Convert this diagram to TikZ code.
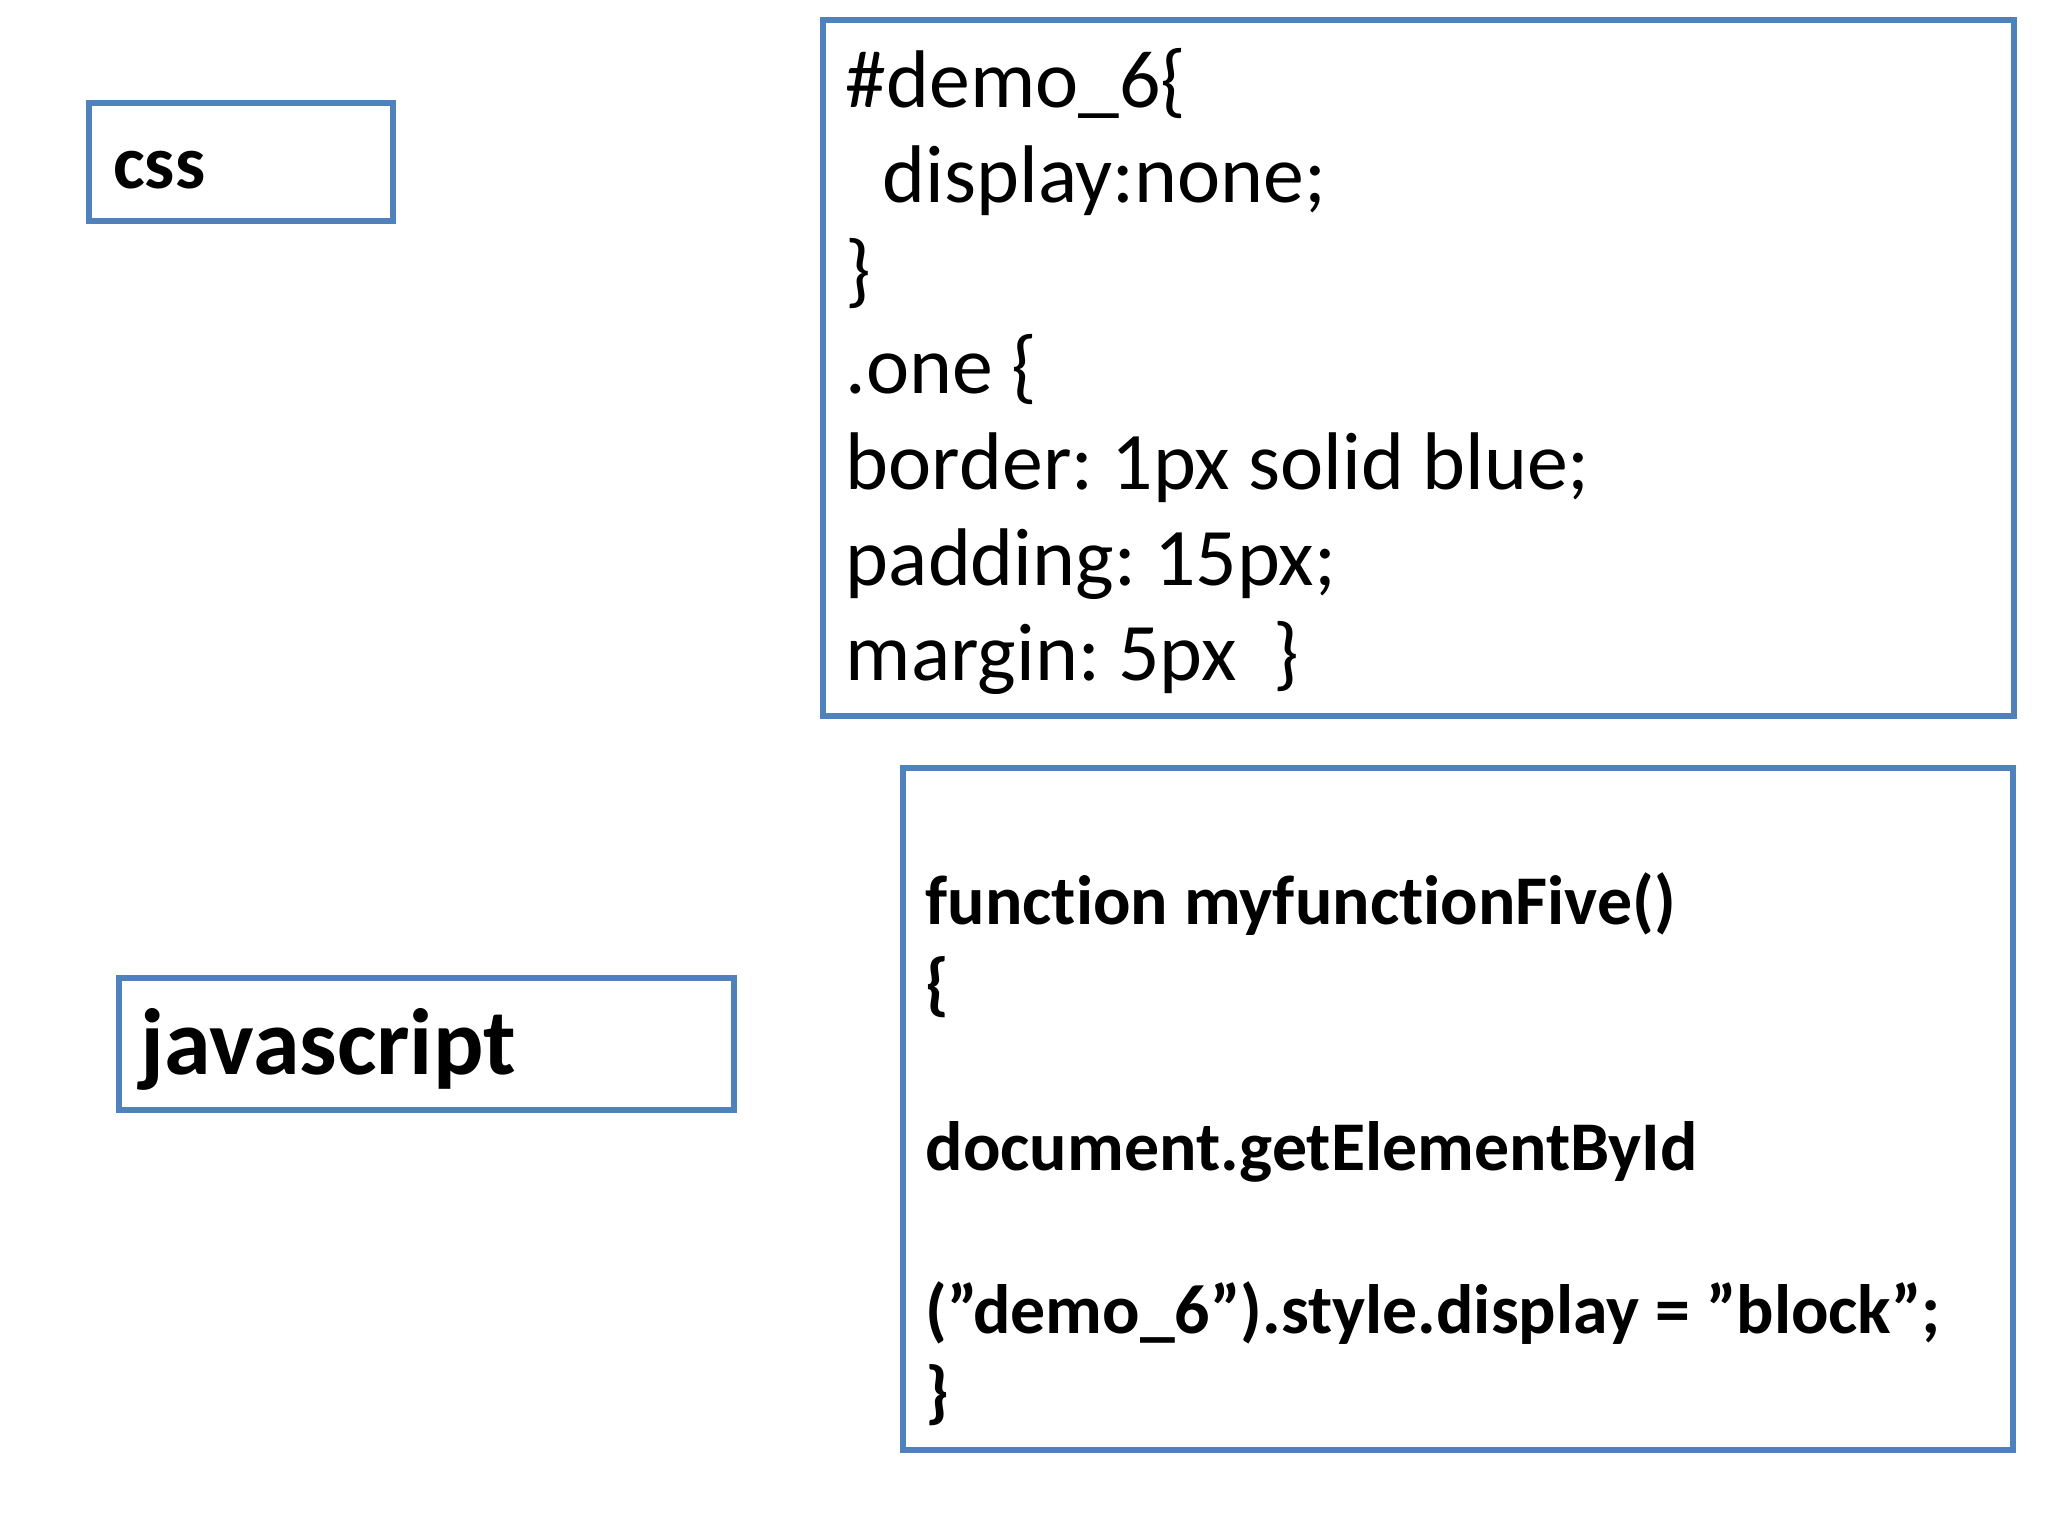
\documentclass[tikz,border=0pt]{standalone}
\usepackage{fontspec}
\setmainfont{Carlito}[Ligatures={NoCommon}]
\frenchspacing
\usetikzlibrary{positioning}
\definecolor{boxblue}{RGB}{79,129,189}
\newcommand{\dq}{\symbol{34}}
\tikzset{
  frame/.style={rectangle, draw=boxblue, line width=1.3pt, inner sep=0pt},
  code/.style={anchor=base west, inner sep=0pt, font=\fontsize{17.8}{17.8}\selectfont},
  jscode/.style={anchor=base west, inner sep=0pt, font=\bfseries\fontsize{15.2}{15.2}\selectfont}
}
\begin{document}
\begin{tikzpicture}[x=0.01cm, y=-0.01cm]
    \useasboundingbox (0,0) rectangle (1568,1176);
    % labels on the left
    \draw[frame] (68,79) rectangle (301,169);
    \node[code, font=\bfseries\fontsize{16.5}{16.5}\selectfont] (css) at (86,144) {css};
    \draw[frame] (91,749) rectangle (562,850);
    \node[code, font=\bfseries\fontsize{20.5}{20.5}\selectfont] (js) at (107,823) {javascript};

    % css code
    \draw[frame] (630,15) rectangle (1542,548);
    \node[code] (c1) at (647,82) {\#demo\_6\{};
    \node[code] (c2) at (647,155) {\ \ display:none;};
    \node[code] (c3) at (647,228) {\}};
    \node[code] (c4) at (647,301) {.one \{};
    \node[code] (c5) at (647,375) {border: 1px solid blue;};
    \node[code] (c6) at (647,448) {padding: 15px;};
    \node[code] (c7) at (647,521) {margin: 5px\ \ \}};

    % javascript code
    \draw[frame] (691,588) rectangle (1541,1110);
    \node[jscode] (j1) at (708,708) {function myfunctionFive()};
    \node[jscode] (j2) at (708,771) {\{};
    \node[jscode] (j3) at (708,896) {document.getElementById};
    \node[jscode] (j4) at (708,1021) {(\dq demo\_6\dq).style.display = \dq block\dq;};
    \node[jscode] (j5) at (708,1084) {\}};
\end{tikzpicture}
\end{document}
